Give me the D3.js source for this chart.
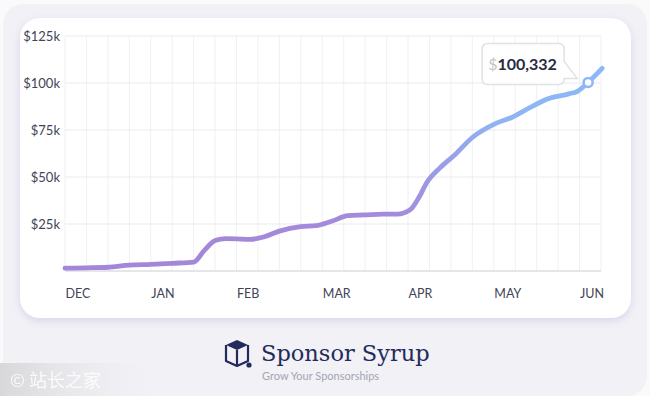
<!DOCTYPE html>
<html>
<head>
<meta charset="utf-8">
<script src="https://cdn.jsdelivr.net/npm/d3@7/dist/d3.min.js"></script>
<style>
  html, body { margin: 0; padding: 0; background: #fafafb; }
  svg { display: block; }
</style>
</head>
<body>
<svg id="chart" width="650" height="396"></svg>
<script>
'use strict';

// weeks since start (month ticks every 4 weeks), revenue in $k
let weeks = [0, 1, 2, 3, 4, 5, 6, 6.5, 7, 7.5, 8, 8.6, 9.3, 10, 11, 11.7, 12.4,
  13.2, 14, 14.8, 15.5, 16.1, 16.45, 16.9, 17.5, 18.2, 19, 20.1, 20.9, 21.7,
  22.5, 23.5, 23.9, 24.4, 25.05];
let revenue = [1.5, 1.7, 2.0, 3.1, 3.5, 4.1, 4.7, 11, 16.2, 17.2, 17.1, 16.8, 18.2,
  21.2, 23.6, 24.1, 26.3, 29.4, 29.8, 30.3, 30.3, 32.6, 38, 47.5, 55, 62, 71,
  78.5, 82, 87, 91.5, 94.2, 95.6, 100.332, 107.8];
let months = ['DEC', 'JAN', 'FEB', 'MAR', 'APR', 'MAY', 'JUN'];
let yTicks = [0, 25, 50, 75, 100, 125];
let highlightIndex = 33;

let svg = d3.select('#chart');
let font = 'Lato, "Open Sans", sans-serif';

let x = d3.scaleLinear().domain([0, 25]).range([65, 601]);
let y = d3.scaleLinear().domain([0, 125]).range([271, 36]);

// backdrop + card
svg.append('rect')
  .attr('x', 3).attr('y', 4)
  .attr('width', 644).attr('height', 392)
  .attr('rx', 20)
  .style('fill', '#f2f1f6');

let defs = svg.append('defs');
let shadow = defs.append('filter')
  .attr('id', 'shadow')
  .attr('x', '-10%').attr('y', '-10%')
  .attr('width', '120%').attr('height', '130%');
shadow.append('feDropShadow')
  .attr('dx', 0).attr('dy', 3)
  .attr('stdDeviation', 4)
  .attr('flood-color', '#c9c2e6')
  .attr('flood-opacity', 0.6);

svg.append('rect')
  .attr('x', 20).attr('y', 18)
  .attr('width', 611).attr('height', 300)
  .attr('rx', 20)
  .style('fill', '#ffffff')
  .attr('filter', 'url(#shadow)');

// grid
let grid = svg.append('g').classed('grid', true);
grid.selectAll('line.v')
  .data(d3.range(0, 26))
  .join('line')
  .classed('v', true)
  .attr('x1', d => x(d)).attr('x2', d => x(d))
  .attr('y1', y(125)).attr('y2', y(0))
  .style('stroke', '#f1f1f4')
  .style('stroke-width', 1);
grid.selectAll('line.h')
  .data(yTicks)
  .join('line')
  .classed('h', true)
  .attr('x1', x(0)).attr('x2', x(25))
  .attr('y1', d => y(d)).attr('y2', d => y(d))
  .style('stroke', d => d === 0 ? '#dedee3' : '#ebebef')
  .style('stroke-width', d => d === 0 ? 1.5 : 1);

// y axis labels
let yAxis = d3.axisLeft(y)
  .tickValues(yTicks.filter(d => d > 0))
  .tickFormat(d => `$${d}k`)
  .tickSize(0)
  .tickPadding(5);
svg.append('g')
  .attr('transform', `translate(${x(0)},0)`)
  .call(yAxis)
  .call(g => g.select('.domain').remove())
  .call(g => g.selectAll('text')
    .style('font-family', font)
    .style('font-size', '13px')
    .style('fill', '#3f4456'));

// x axis labels, anchored at the month start
let xAxis = d3.axisBottom(x)
  .tickValues(months.map((m, i) => i * 4))
  .tickFormat((d, i) => months[i])
  .tickSize(0)
  .tickPadding(18);
svg.append('g')
  .attr('transform', `translate(0,${y(0)})`)
  .call(xAxis)
  .call(g => g.select('.domain').remove())
  .call(g => g.selectAll('text')
    .attr('text-anchor', 'start')
    .attr('x', 0)
    .style('font-family', font)
    .style('font-size', '12.5px')
    .style('fill', '#3f4456'));

// line
let grad = defs.append('linearGradient')
  .attr('id', 'lineGrad')
  .attr('gradientUnits', 'userSpaceOnUse')
  .attr('x1', x(0)).attr('x2', x(25))
  .attr('y1', 0).attr('y2', 0);
[[0, '#a386d9'], [0.62, '#a38bdb'], [0.8, '#90b3f3'], [1, '#8bb9f7']].forEach(s => {
  grad.append('stop').attr('offset', s[0]).attr('stop-color', s[1]);
});

let points = weeks.map((w, i) => [w, revenue[i]]);
let line = d3.line()
  .x(d => x(d[0]))
  .y(d => y(d[1]))
  .curve(d3.curveMonotoneX);
svg.append('path')
  .datum(points)
  .attr('d', line)
  .style('fill', 'none')
  .style('stroke', 'url(#lineGrad)')
  .style('stroke-width', 4.8)
  .style('stroke-linecap', 'round')
  .style('stroke-linejoin', 'round');

let hp = points[highlightIndex];
let hx = x(hp[0]);
let hy = y(hp[1]);
svg.append('circle')
  .attr('cx', hx).attr('cy', hy)
  .attr('r', 4.5)
  .style('fill', '#ffffff')
  .style('stroke', '#8bb8f6')
  .style('stroke-width', 2.5);

// tooltip bubble
let tip = svg.append('g').classed('tip', true);
let bx0 = hx - 106, bx1 = hx - 24, by0 = hy - 39, by1 = hy + 2;
tip.append('path')
  .attr('d', `M${bx0 + 6},${by0} H${bx1 - 6} Q${bx1},${by0} ${bx1},${by0 + 6}`
    + ` V${by0 + 18} L${hx - 11},${by1 - 6} H${bx1} Q${bx1},${by1} ${bx1 - 6},${by1}`
    + ` H${bx0 + 6} Q${bx0},${by1} ${bx0},${by1 - 6} V${by0 + 6} Q${bx0},${by0} ${bx0 + 6},${by0} Z`)
  .style('fill', '#ffffff')
  .style('stroke', '#e0e0e5')
  .style('stroke-width', 1.5);
let tipText = tip.append('text')
  .attr('x', bx0 + 6)
  .attr('y', by0 + 27)
  .style('font-family', font)
  .style('font-size', '16px');
tipText.append('tspan')
  .style('fill', '#c4c4cc')
  .text('$');
tipText.append('tspan')
  .style('fill', '#282b40')
  .style('font-weight', 700)
  .text(d3.format(',')(Math.round(hp[1] * 1000)));

// brand
let brand = svg.append('g').classed('brand', true);
brand.append('path')
  .attr('d', 'M226,345 L237,340 L248,345 L237,350 Z')
  .style('fill', '#232a5c');
brand.append('path')
  .attr('d', 'M226,345 V361 L237,366 L248,361 V345 M237,350 V366')
  .style('fill', 'none')
  .style('stroke', '#232a5c')
  .style('stroke-width', 2.2)
  .style('stroke-linejoin', 'round');
brand.append('circle')
  .attr('cx', 249).attr('cy', 365).attr('r', 2.6)
  .style('fill', '#232a5c');
brand.append('text')
  .attr('x', 261).attr('y', 361)
  .style('font-family', '"DejaVu Serif", serif')
  .style('font-size', '22.5px')
  .style('fill', '#232a5c')
  .text('Sponsor Syrup');
brand.append('text')
  .attr('x', 262).attr('y', 380)
  .style('font-family', font)
  .style('font-size', '11px')
  .style('fill', '#a3a5b3')
  .text('Grow Your Sponsorships');

// watermark
let wm = defs.append('linearGradient')
  .attr('id', 'wmGrad')
  .attr('x1', 0).attr('x2', 1).attr('y1', 0).attr('y2', 0);
wm.append('stop').attr('offset', 0).attr('stop-color', '#d6d6d9').attr('stop-opacity', 0.95);
wm.append('stop').attr('offset', 1).attr('stop-color', '#e9e9ec').attr('stop-opacity', 0);
svg.append('rect')
  .attr('x', 0).attr('y', 363)
  .attr('width', 150).attr('height', 33)
  .style('fill', 'url(#wmGrad)');
svg.append('text')
  .attr('x', 10).attr('y', 387)
  .style('font-family', '"Noto Sans CJK SC", sans-serif')
  .style('font-size', '18px')
  .style('fill', '#ffffff')
  .style('opacity', 0.85)
  .text('© 站长之家');
</script>
</body>
</html>
